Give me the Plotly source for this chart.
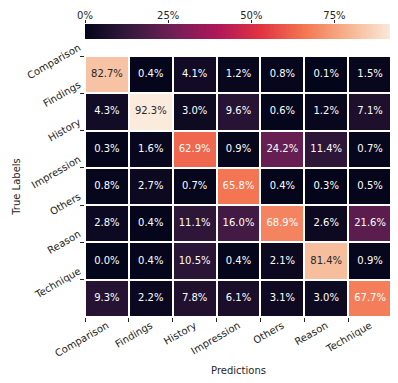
import plotly.graph_objects as go

labels = ["Comparison", "Findings", "History", "Impression", "Others", "Reason", "Technique"]

# rows = true labels, columns = predictions (percent)
comparison = [82.7, 0.4, 4.1, 1.2, 0.8, 0.1, 1.5]
findings = [4.3, 92.3, 3.0, 9.6, 0.6, 1.2, 7.1]
history = [0.3, 1.6, 62.9, 0.9, 24.2, 11.4, 0.7]
impression = [0.8, 2.7, 0.7, 65.8, 0.4, 0.3, 0.5]
others = [2.8, 0.4, 11.1, 16.0, 68.9, 2.6, 21.6]
reason = [0.0, 0.4, 10.5, 0.4, 2.1, 81.4, 0.9]
technique = [9.3, 2.2, 7.8, 6.1, 3.1, 3.0, 67.7]

z = [comparison, findings, history, impression, others, reason, technique]

cbar_ticks = [0, 25, 50, 75]
cbar_labels = ["0%", "25%", "50%", "75%"]

# approximation of seaborn "rocket"
rocket = [
    [0.0, "#03051a"],
    [1 / 7, "#35193e"],
    [2 / 7, "#701f57"],
    [3 / 7, "#ad1759"],
    [4 / 7, "#e13342"],
    [5 / 7, "#f37651"],
    [6 / 7, "#f6b48f"],
    [1.0, "#faebdd"],
]

zmax = max(max(r) for r in z)
zmin = min(min(r) for r in z)

# page body adds an 8px margin, so the figure is 8px smaller and everything
# is placed 8px up/left of where it sits in the reference
W, HT = 390, 375
H = 309.0  # plot area height (top margin 0, bottom 66)
hm_top = (309 - 48) / H
cb_bottom = (309 - 31) / H
cb_top = (309 - 16) / H

fig = go.Figure()
fig.add_trace(go.Heatmap(
    z=z, x=labels, y=labels,
    colorscale=rocket, zmin=zmin, zmax=zmax,
    xgap=2, ygap=2, hoverinfo="skip",
    colorbar=dict(
        orientation="h", x=0.5, xanchor="center", y=cb_bottom, yanchor="bottom",
        len=1, lenmode="fraction", thickness=15, outlinewidth=0,
        xpad=0, ypad=0, showticklabels=False, ticks="",
    ),
))

# cell annotations: dark text on light cells like seaborn
xs, ys, txt, cols = [], [], [], []
for i, row in enumerate(z):
    for j, v in enumerate(row):
        xs.append(labels[j])
        ys.append(labels[i])
        txt.append(f"{v:.1f}%")
        frac = (v - zmin) / (zmax - zmin)
        cols.append("#262626" if frac > 0.8 else "white")

fig.add_trace(go.Scatter(
    x=xs, y=ys, mode="text", text=txt,
    textfont=dict(family="DejaVu Sans", size=10, color=cols),
    hoverinfo="skip", showlegend=False,
))

# empty helper trace so the colorbar scale axis gets drawn
fig.add_trace(go.Scatter(
    x=[zmin, zmax], y=[0, 0], mode="none", xaxis="x2", yaxis="y2",
    hoverinfo="skip", showlegend=False,
))

axis_font = dict(family="DejaVu Sans", size=10, color="#262626")
fig.update_layout(
    xaxis=dict(
        domain=[0, 1], categoryorder="array", categoryarray=labels,
        range=[-0.5, 6.5],
        tickangle=-30, tickson="boundaries", ticks="outside", ticklen=4,
        tickcolor="#262626", tickfont=axis_font, showgrid=False, zeroline=False,
        automargin=False,
        title=dict(text="Predictions", font=axis_font, standoff=8),
    ),
    yaxis=dict(
        domain=[0, hm_top], categoryorder="array", categoryarray=labels,
        range=[6.5, -0.5],
        tickangle=-30, tickson="boundaries", ticks="outside", ticklen=4,
        tickcolor="#262626", tickfont=axis_font, showgrid=False, zeroline=False,
        ticklabelshift=28, ticklabelstandoff=5,
        automargin=False,
        title=dict(text="True Labels", font=axis_font, standoff=2),
    ),
    # scale axis for the colorbar, drawn above the bar
    xaxis2=dict(
        domain=[0, 1], range=[zmin, zmax], anchor="y2",
        side="top", tickmode="array", tickvals=cbar_ticks, ticktext=cbar_labels,
        ticks="outside", ticklen=3, tickcolor="#262626", tickfont=axis_font,
        ticklabelstandoff=-3,
        showgrid=False, zeroline=False, showline=False, automargin=False,
    ),
    yaxis2=dict(
        domain=[cb_bottom, cb_top], range=[0, 1], anchor="x2",
        visible=False, automargin=False,
    ),
    width=W, height=HT,
    margin=dict(l=77, r=6, t=0, b=66, autoexpand=False),
    paper_bgcolor="white", plot_bgcolor="white",
    font=dict(family="DejaVu Sans", size=10, color="#262626"),
)

fig.write_html("out.html")
